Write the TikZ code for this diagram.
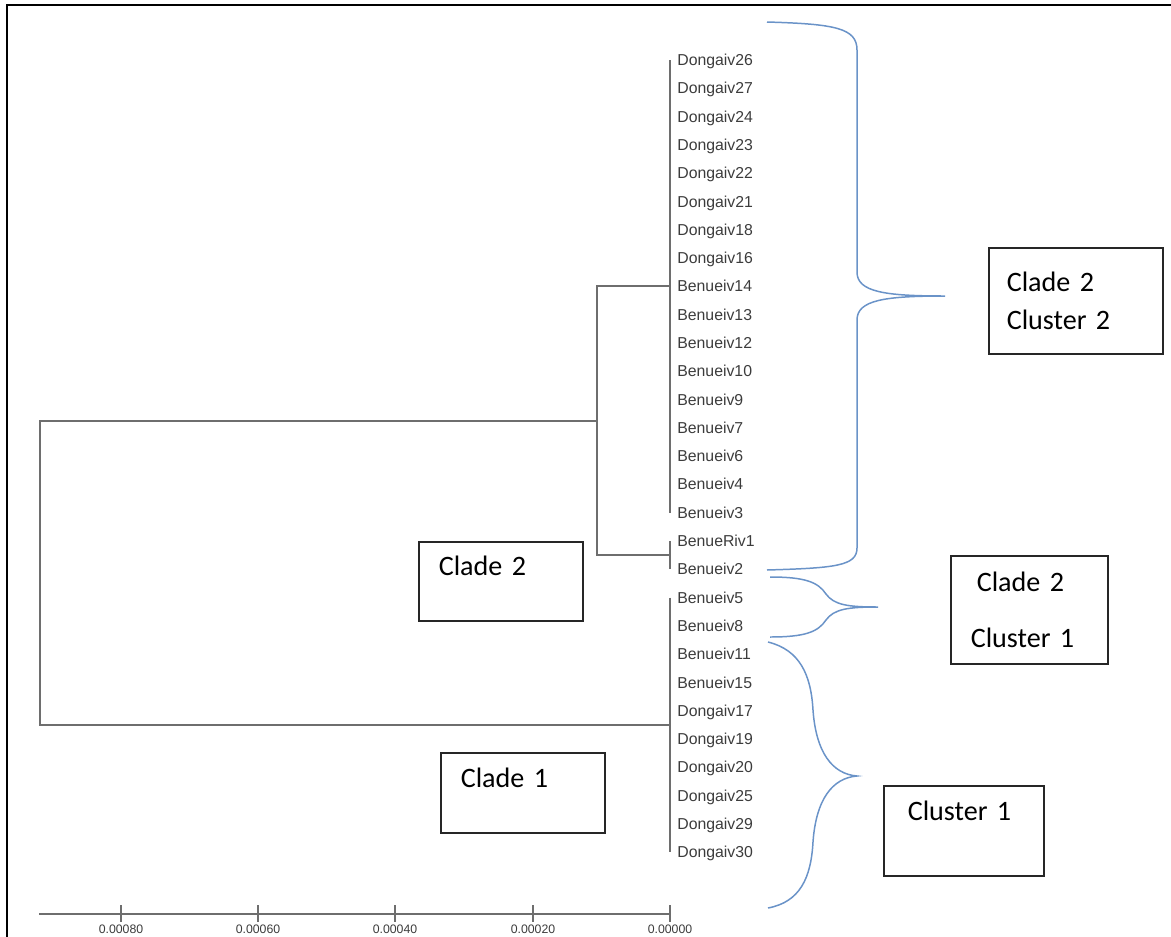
\documentclass[tikz,border=0pt]{standalone}
\usepackage{fontspec}
\usepackage{tikz}
\usetikzlibrary{calc}
\newfontfamily\leaffont{Liberation Sans}
\newfontfamily\boxfont{Carlito}
\definecolor{treegray}{HTML}{6E6E6E}
\definecolor{leafgray}{HTML}{3C3C3C}
\definecolor{braceblue}{HTML}{6A93C8}
\definecolor{boxedge}{HTML}{262626}

\begin{document}
\begin{tikzpicture}[x=0.02cm,y=-0.02cm,
  leaf/.style={anchor=west,inner sep=0pt,text height=6.4pt,text depth=0pt,font=\leaffont\fontsize{9}{10}\selectfont,text=leafgray},
  tree/.style={draw=treegray,line width=1.1pt},
  brc/.style={draw=braceblue,line width=0.85pt},
  tag/.style={draw=boxedge,line width=0.9pt,anchor=north west,align=left,font=\boxfont\fontsize{16}{21.5}\selectfont,inner ysep=0pt},
  tck/.style={font=\leaffont\fontsize{7}{8}\selectfont,text=leafgray,inner sep=0pt}]
\useasboundingbox (0,0) rectangle (1171,937);
\draw[black,line width=1pt] (7,937) -- (7,5) -- (1171,5);
% ---------- leaves ----------
\foreach \i/\t in {0/Dongaiv26,1/Dongaiv27,2/Dongaiv24,3/Dongaiv23,4/Dongaiv22,5/Dongaiv21,6/Dongaiv18,7/Dongaiv16,
  8/Benueiv14,9/Benueiv13,10/Benueiv12,11/Benueiv10,12/Benueiv9,13/Benueiv7,14/Benueiv6,15/Benueiv4,16/Benueiv3,
  17/BenueRiv1,18/Benueiv2,19/Benueiv5,20/Benueiv8,21/Benueiv11,22/Benueiv15,
  23/Dongaiv17,24/Dongaiv19,25/Dongaiv20,26/Dongaiv25,27/Dongaiv29,28/Dongaiv30}{
  \node[leaf] (l\i) at (677,{60+\i*28.29}) {\t};
}
% ---------- tree ----------
\coordinate (k2) at ($(l0.west)!0.5!(l16.west)+(-7,0)$);
\coordinate (k3) at ($(l17.west)!0.5!(l18.west)+(-7,0)$);
\coordinate (k1) at ($(l19.west)!0.5!(l28.west)+(-7,0)$);
\coordinate (xj) at (597,0);
\coordinate (xr) at (40,0);
\coordinate (j2a) at (xj |- k2);
\coordinate (j2b) at (xj |- k3);
\coordinate (j2) at ($(j2a)!0.5!(j2b)$);
\coordinate (ra) at (xr |- j2);
\coordinate (rb) at (xr |- k1);
\draw[tree] ([xshift=-0.14cm]l0.west) -- ([xshift=-0.14cm]l16.west);
\draw[tree] ([xshift=-0.14cm]l17.west) -- ([xshift=-0.14cm]l18.west);
\draw[tree] ([xshift=-0.14cm]l19.west) -- ([xshift=-0.14cm]l28.west);
\draw[tree] (k2) -- (j2a) -- (j2b) -- (k3);
\draw[tree] (j2) -- (ra) -- (rb) -- (k1);
% ---------- scale ----------
\draw[tree] (39,914) -- (670,914);
\foreach \v/\x in {0.00080/121,0.00060/258,0.00040/395,0.00020/533,0.00000/670}{
  \draw[tree] (\x,905) -- (\x,922);
  \node[tck] (s\x) at (\x,929) {\v};
}
% ---------- braces ----------
\coordinate (b1t) at (767,22); \coordinate (b1m) at (945,296); \coordinate (b1b) at (767,570);
\draw[brc] (b1t) .. controls (835,24) and (857,28) .. (857,50) -- (857,272)
  .. controls (857,292) and (885,296) .. (b1m) .. controls (885,296) and (857,300) .. (857,320)
  -- (857,548) .. controls (857,566) and (835,568) .. (b1b);
\coordinate (b2t) at (770,577); \coordinate (b2m) at (878,607); \coordinate (b2b) at (770,637);
\draw[brc] (b2t) .. controls (805,577) and (818,582) .. (826,594) .. controls (834,605) and (848,607) .. (b2m)
  .. controls (848,607) and (834,609) .. (826,620) .. controls (818,632) and (805,637) .. (b2b);
\coordinate (b3t) at (768,642); \coordinate (b3m) at (857,776); \coordinate (b3b) at (768,908);
\draw[brc] (b3t) .. controls (800,650) and (811,675) .. (813,710) .. controls (816,752) and (832,774) .. (b3m)
  .. controls (832,778) and (816,800) .. (813,842) .. controls (811,878) and (800,902) .. (b3b);
% ---------- labels ----------
\node[tag,text width=2.76cm,inner xsep=0.36cm,minimum height=2.12cm] (cc2) at (988,247) {Clade 2\\Cluster 2};
\node[tag,text width=2.34cm,inner xsep=0.4cm,minimum height=2.16cm] (cc1) at (950,555) {\hspace*{0.12cm}Clade 2\\[10pt]Cluster 1};
\node[tag,text width=2.48cm,inner xsep=0.4cm,text height=0.68cm,text depth=0.9cm] (cl2) at (418,541) {Clade 2};
\node[tag,text width=2.48cm,inner xsep=0.4cm,text height=0.7cm,text depth=0.9cm] (cl1) at (440,752) {Clade 1};
\node[tag,text width=2.24cm,inner xsep=0.48cm,text height=0.7cm,text depth=1.1cm] (cu1) at (883,785) {Cluster 1};
\end{tikzpicture}
\end{document}
